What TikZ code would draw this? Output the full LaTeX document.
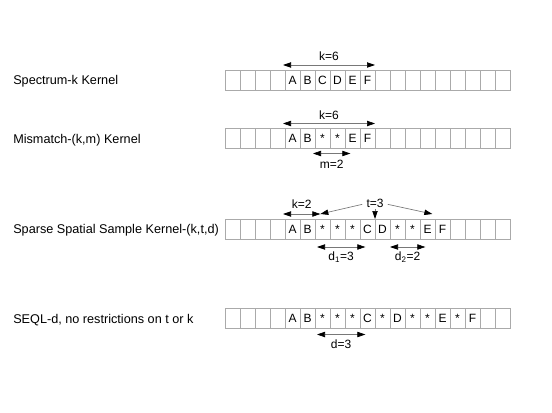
\documentclass[tikz,border=0pt]{standalone}
\usepackage{fontspec}
\setmainfont{Liberation Sans}
\usetikzlibrary{arrows.meta,positioning,calc}
\definecolor{cellgray}{RGB}{170,170,170}
\definecolor{linegray}{RGB}{120,120,120}
\tikzset{
  cell/.style={draw=cellgray, line width=0.6pt, minimum width=11.25pt, minimum height=15pt,
    inner sep=0pt, outer sep=0pt, text height=6.6pt, text depth=0pt, font=\fontsize{9}{11}\selectfont},
  kernel/.style={anchor=west, inner sep=0pt, font=\fontsize{9.5}{11}\selectfont},
  span/.style={draw=linegray, line width=0.5pt,
    {Triangle[length=6pt,width=4pt,color=black]}-{Triangle[length=6pt,width=4pt,color=black]}},
  pointer/.style={draw=linegray, line width=0.5pt, -{Triangle[length=6pt,width=4pt,color=black]}},
  lbl/.style={font=\fontsize{9}{11}\selectfont, inner sep=1pt}
}
% one string of 19 cells, named <row>c1 ... <row>c19
\newcommand{\seqrow}[3]{%
  \foreach \s [count=\i] in {#3}
    \node[cell] (#1c\i) at (217.5+15*\i,#2) {\s};
}

\begin{document}
\begin{tikzpicture}[x=0.75pt,y=-0.75pt]
  \useasboundingbox (0,0) rectangle (552,413);

  % kernel names
  \node[kernel] (spec) at (13,81) {Spectrum-k Kernel};
  \node[kernel] (mism) at (13,140) {Mismatch-(k,m) Kernel};
  \node[kernel] (sparse) at (13,230) {Sparse Spatial Sample Kernel-(k,t,d)};
  \node[kernel] (seql) at (13,320) {SEQL-d, no restrictions on t or k};

  % strings
  \seqrow{a}{80}{{},{},{},{},A,B,C,D,E,F,{},{},{},{},{},{},{},{},{}}
  \seqrow{b}{138.5}{{},{},{},{},A,B,*,*,E,F,{},{},{},{},{},{},{},{},{}}
  \seqrow{c}{229}{{},{},{},{},A,B,*,*,*,C,D,*,*,E,F,{},{},{},{}}
  \seqrow{d}{318.5}{{},{},{},{},A,B,*,*,*,C,*,D,*,*,E,*,F,{},{}}

  % spectrum
  \draw[span] ([shift={(-1.5pt,3.75pt)}]ac5.north west) -- ([yshift=3.75pt]ac10.north east)
    node[lbl,midway,above=2pt] {k=6};

  % mismatch
  \draw[span] ([shift={(-1.5pt,3.75pt)}]bc5.north west) -- ([yshift=3.75pt]bc10.north east)
    node[lbl,midway,above=2pt] {k=6};
  \draw[span] ([shift={(-1.5pt,-3.75pt)}]bc7.south west) -- ([shift={(4pt,-3.75pt)}]bc8.south east)
    node[lbl,midway,below=3.5pt] {m=2};

  % sparse spatial sample
  \draw[span] ([shift={(-1.5pt,3.75pt)}]cc5.north west) -- ([shift={(4pt,3.75pt)}]cc6.north east)
    node[lbl,midway,above=2.5pt] {k=2};
  \node[lbl] (t3) at (375,203) {t=3};
  \draw[pointer] ([shift={(-2pt,-1pt)}]t3.west) -- ([shift={(4pt,3.75pt)}]cc6.north east);
  \draw[pointer] (t3.south) -- (cc10.north east);
  \draw[pointer] ([shift={(2pt,-1pt)}]t3.east) -- ([shift={(-2pt,3.75pt)}]cc14.north east);
  \draw[span] ([shift={(1.5pt,-6pt)}]cc7.south west) -- ([shift={(4pt,-6pt)}]cc9.south east)
    node[lbl,midway,below=2.5pt] {d\textsubscript{1}=3};
  \draw[span] ([yshift=-6pt]cc12.south west) -- ([shift={(4pt,-6pt)}]cc13.south east)
    node[lbl,midway,below=2.5pt] {d\textsubscript{2}=2};

  % seql
  \draw[span] ([shift={(1.5pt,-4.5pt)}]dc7.south west) -- ([shift={(4pt,-4.5pt)}]dc9.south east)
    node[lbl,midway,below=3pt] {d=3};
\end{tikzpicture}
\end{document}
